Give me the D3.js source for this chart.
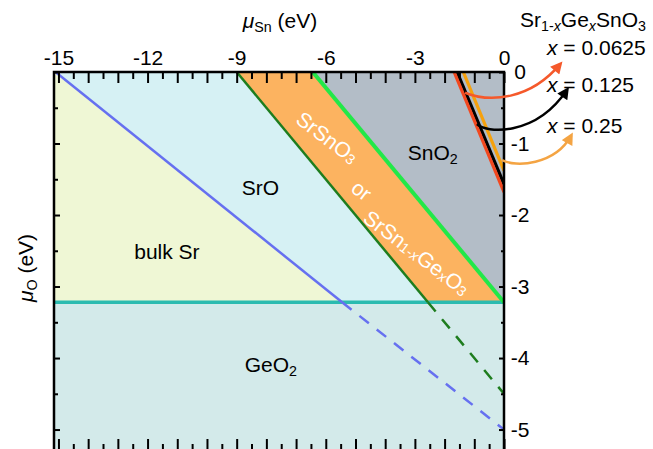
<!DOCTYPE html>
<html lang="en">
<head>
<meta charset="UTF-8">
<title>Sr-Sn-O chemical potential diagram</title>
<style>
  body { margin: 0; background: #fff; }
  svg { display: block; font-family: "Liberation Sans", Arial, sans-serif; }
  .tick text { font-size: 21px; fill: #000; }
</style>
</head>
<body>
<svg id="chart" width="653" height="449"></svg>
<script src="https://cdn.jsdelivr.net/npm/d3@7/dist/d3.min.js"></script>
<script>
// axis ranges and tick labels (eV)
const muSnDomain = [-15.15, 0];
const muODomain = [-5.3, 0];
const muSnMajor = d3.range(-15, 1);
const muSnLabels = [-15, -12, -9, -6, -3, 0];
const muOMajor = [0, -1, -2, -3, -4, -5];

// mu_O below which GeO2 forms
const geo2Limit = -3.22;

// phase boundaries, [muSn, muO] end points
const srOBoundary = [[-15.1, 0], [-5.45, geo2Limit]];
const srOBoundaryHidden = [[-5.45, geo2Limit], [0, -5.0]];
const srSnO3Lower = [[-9.0, 0], [-2.56, geo2Limit]];
const srSnO3LowerHidden = [[-2.56, geo2Limit], [0, -4.5]];
const srSnO3Upper = [[-6.44, 0], [0, geo2Limit]];

// stable regions
const bulkSrRegion = [[-15.15, 0], [-15.1, 0], [-5.45, geo2Limit], [-15.15, geo2Limit]];
const srORegion = [[-15.1, 0], [-9.0, 0], [-2.56, geo2Limit], [-5.45, geo2Limit]];
const srSnO3Region = [[-9.0, 0], [-6.44, 0], [0, geo2Limit], [-2.56, geo2Limit]];
const snO2Region = [[-6.44, 0], [0, 0], [0, geo2Limit]];
const geO2Region = [[-15.15, geo2Limit], [0, geo2Limit], [0, -5.3], [-15.15, -5.3]];

// Sr(1-x)Ge(x)SnO3 limits
const dopingX = ["0.0625", "0.125", "0.25"];
const dopingLines = [
  [[-1.68, 0], [0, -1.68]],
  [[-1.58, 0], [0, -1.57]],
  [[-1.37, 0], [0, -1.38]]
];
const dopingColors = ["#f2481f", "#000000", "#f6a10c"];
const arrowColors = ["#f5592b", "#000000", "#f4a443"];

const svg = d3.select("#chart");
const x = d3.scaleLinear().domain(muSnDomain).range([54, 504]);
const y = d3.scaleLinear().domain(muODomain).range([451, 72]);
const line = d3.line().x(d => x(d[0])).y(d => y(d[1]));

svg.append("clipPath").attr("id", "plot")
  .append("rect").attr("x", 54).attr("y", 72).attr("width", 450).attr("height", 379);

const plot = svg.append("g").attr("clip-path", "url(#plot)");

// fills
[[geO2Region, "#d3eaea"], [bulkSrRegion, "#eff7d5"], [srORegion, "#d6f1f4"],
 [srSnO3Region, "#fcb360"], [snO2Region, "#b3bdc7"]].forEach(([pts, c]) => {
  plot.append("path").attr("d", line(pts) + "Z").attr("fill", c);
});

function seg(pts, color, w, dash) {
  plot.append("path").attr("d", line(pts))
    .attr("fill", "none").attr("stroke", color).attr("stroke-width", w)
    .attr("stroke-dasharray", dash || null);
}

seg([[-15.15, geo2Limit], [0, geo2Limit]], "#2bbbb0", 3.5);
seg(srOBoundary, "#6670f0", 2.5);
seg(srOBoundaryHidden, "#6670f0", 2.5, "12,10");
seg(srSnO3Lower, "#1e7d1e", 2.5);
seg(srSnO3LowerHidden, "#1e7d1e", 2.5, "12,10");
seg(srSnO3Upper, "#22e848", 4);
[2, 1, 0].forEach(i => seg(dopingLines[i], dopingColors[i], 3.2));

// axes
function axisGroup(axis, tx, ty) {
  const g = svg.append("g").attr("transform", `translate(${tx},${ty})`).call(axis);
  g.select(".domain").remove();
  g.selectAll(".tick line").attr("stroke", "#000").attr("stroke-width", 2);
  return g;
}
const halfSn = d3.range(-14.5, 0, 1);
const halfO = d3.range(-4.5, 0, 1);

axisGroup(d3.axisTop(x).tickValues(muSnMajor).tickSize(-11).tickPadding(7)
  .tickFormat(d => muSnLabels.includes(d) ? String(d) : ""), 0, 72);
axisGroup(d3.axisTop(x).tickValues(halfSn).tickSize(-7).tickFormat(""), 0, 72);
axisGroup(d3.axisBottom(x).tickValues(muSnMajor).tickSize(-12).tickFormat(""), 0, 451);
axisGroup(d3.axisBottom(x).tickValues(halfSn).tickSize(-7).tickFormat(""), 0, 451);
axisGroup(d3.axisLeft(y).tickValues(muOMajor).tickSize(-6).tickFormat(""), 54, 0);
axisGroup(d3.axisLeft(y).tickValues(halfO).tickSize(-4).tickFormat(""), 54, 0);
const right = axisGroup(d3.axisRight(y).tickValues(muOMajor).tickSize(-5)
  .tickFormat(d => String(d)), 504, 0);
right.selectAll(".tick text").attr("text-anchor", "middle").attr("x", 16);
axisGroup(d3.axisRight(y).tickValues(halfO).tickSize(-3).tickFormat(""), 504, 0);

svg.append("rect").attr("x", 54).attr("y", 72).attr("width", 450).attr("height", 379)
  .attr("fill", "none").attr("stroke", "#000").attr("stroke-width", 2.5);

// text with subscripts / italics; kinds: n normal, s sub, i italic, si sub italic
function rich(sel, parts, size) {
  let shift = 0;
  parts.forEach(([t, k]) => {
    const sub = k.includes("s");
    const ts = sel.append("tspan").text(t)
      .attr("font-size", sub ? size * 0.68 : size)
      .attr("font-style", k.includes("i") ? "italic" : null);
    const target = sub ? 4 : 0;
    if (target !== shift) { ts.attr("dy", target - shift); shift = target; }
  });
  return sel;
}
function label(px, py, parts, opts = {}) {
  const t = svg.append("text")
    .attr("transform", `translate(${px},${py})` + (opts.rot ? ` rotate(${opts.rot})` : ""))
    .attr("text-anchor", opts.anchor || "middle")
    .attr("dominant-baseline", opts.central ? "central" : null)
    .attr("fill", opts.fill || "#000");
  return rich(t, parts, opts.size || 21);
}

// axis titles
label(280, 28, [["μ", "i"], ["Sn", "s"], [" (eV)", "n"]]);
label(33, 268, [["μ", "i"], ["O", "s"], [" (eV)", "n"]], { rot: -90 });

// phase labels
label(x(-11.35), y(-2.62), [["bulk Sr", "n"]]);
label(x(-8.2), y(-1.72), [["SrO", "n"]]);
label(x(-2.4), y(-1.23), [["SnO", "n"], ["2", "s"]]);
label(x(-7.85), y(-4.2), [["GeO", "n"], ["2", "s"]]);
label(x(-5.94), y(-0.91), [["SrSnO", "n"], ["3", "s"]], { rot: 37, central: true, fill: "#fff" });
label(x(-4.78), y(-1.65), [["or", "n"]], { rot: 37, central: true, fill: "#fff" });
label(x(-2.93), y(-2.52), [["SrSn", "n"], ["1-", "s"], ["x", "si"], ["Ge", "n"], ["x", "si"], ["O", "n"], ["3", "s"]],
  { rot: 37, central: true, fill: "#fff" });

// doping legend
label(520, 27, [["Sr", "n"], ["1-", "s"], ["x", "si"], ["Ge", "n"], ["x", "si"], ["SnO", "n"], ["3", "s"]], { anchor: "start" });
[55, 92, 133].forEach((py, i) => {
  label(547, py, [["x", "i"], [" = " + dopingX[i], "n"]], { anchor: "start" });
});

// curved arrows from the lines to the legend
const defs = svg.append("defs");
arrowColors.forEach((c, i) => {
  defs.append("marker").attr("id", "ah" + i)
    .attr("viewBox", "0 0 10 10").attr("refX", 7).attr("refY", 5)
    .attr("markerWidth", 14).attr("markerHeight", 12)
    .attr("markerUnits", "userSpaceOnUse").attr("orient", "auto")
    .append("path").attr("d", "M0,0L10,5L0,10Z").attr("fill", c);
});
const arrowPaths = [
  [[-1.31, -0.29], [-0.47, -0.43], [0.88, -0.39], [1.89, 0.11]],
  [[-0.91, -0.73], [-0.64, -0.85], [1.04, -0.92], [2.12, -0.25]],
  [[-0.07, -1.23], [0.37, -1.34], [1.72, -1.30], [2.26, -0.89]]
];
arrowPaths.forEach((p, i) => {
  const q = p.map(d => [x(d[0]), y(d[1])]);
  svg.append("path")
    .attr("d", `M${q[0]}C${q[1]} ${q[2]} ${q[3]}`)
    .attr("fill", "none").attr("stroke", arrowColors[i]).attr("stroke-width", 2.5)
    .attr("marker-end", `url(#ah${i})`);
});
</script>
</body>
</html>
